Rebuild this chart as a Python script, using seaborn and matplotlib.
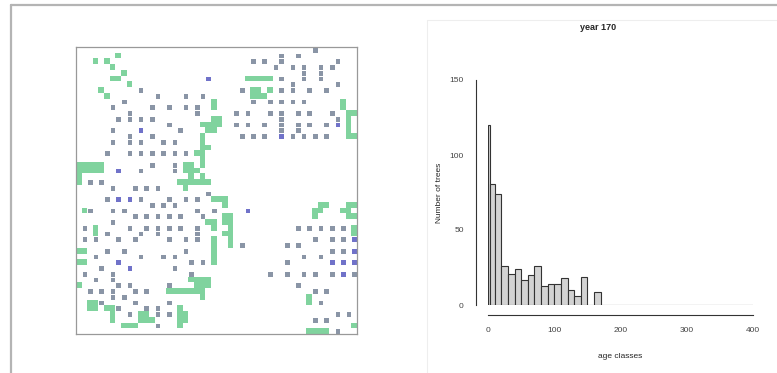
import numpy as np
import pandas as pd
import matplotlib
matplotlib.use("Agg")
import matplotlib.pyplot as plt
from matplotlib.colors import ListedColormap
from matplotlib.lines import Line2D
import seaborn as sns

sns.set_style("white")
plt.rcParams["font.family"] = ["Liberation Sans", "DejaVu Sans"]

# forest map, 50 x 50 cells: row -> list of columns
n_cells = 50
green_cells = {
    1: [7], 2: [3, 5], 3: [6], 4: [8], 5: [6, 7, 30, 31, 32, 33, 34], 6: [9],
    7: [4, 31, 32, 34], 8: [5, 31, 32, 33], 9: [24, 47], 10: [24, 47],
    11: [48, 49], 12: [24, 25, 48], 13: [22, 23, 24, 25, 48], 14: [23, 24, 48],
    15: [22, 48, 49], 16: [22], 17: [22, 23], 18: [21, 22], 19: [22],
    20: [0, 1, 2, 3, 4, 19, 20, 22], 21: [0, 1, 2, 3, 4, 19, 20, 21],
    22: [0, 20, 22], 23: [0, 18, 19, 20, 21, 22, 23], 24: [19],
    26: [24, 25, 26], 27: [26, 43, 44, 48, 49], 28: [1, 42, 43, 47, 48],
    29: [26, 27, 42, 48, 49], 30: [23, 24, 26, 27], 31: [3, 24, 27, 49],
    32: [3, 26, 27, 49], 33: [24, 27], 34: [24, 27], 35: [0, 1, 24],
    36: [24], 37: [0, 1, 24], 40: [20, 21, 22, 23], 41: [0, 21, 22, 23],
    42: [16, 17, 18, 19, 20, 21, 22], 43: [22, 41], 44: [2, 3, 41],
    45: [2, 3, 5, 6, 18], 46: [6, 11, 12, 18, 19], 47: [6, 11, 12, 13, 18, 19],
    48: [8, 9, 10, 18, 49], 49: [41, 42, 43, 44],
}
grey_cells = {
    0: [42], 1: [36, 39], 2: [31, 33, 36, 46], 3: [35, 38, 40, 43, 45],
    4: [40, 43], 5: [36, 40, 43], 6: [38, 46], 7: [11, 29, 36, 38, 41, 44],
    8: [14, 19, 22], 9: [8, 31, 34, 36, 38, 40], 10: [6, 13, 16, 19, 21],
    11: [9, 21, 28, 30, 34, 36, 39, 41, 45], 12: [7, 9, 11, 13, 36, 46],
    13: [16, 28, 30, 33, 36, 39, 41, 44], 14: [6, 18, 36, 39],
    15: [9, 13, 29, 31, 33, 38, 40, 42, 44], 16: [6, 9, 11, 15, 17],
    18: [5, 9, 11, 13, 15, 17, 19], 20: [13, 17], 21: [11, 17], 23: [2, 4],
    24: [6, 10, 12, 14], 25: [23], 26: [5, 11, 16, 19, 21], 27: [13, 15, 17],
    28: [2, 6, 8, 21, 24], 29: [10, 12, 14, 16, 18, 22], 30: [6],
    31: [1, 9, 12, 14, 16, 18, 21, 39, 41, 43, 45, 47], 32: [5, 11, 14, 21],
    33: [1, 3, 7, 10, 16, 19, 21, 42, 45, 47], 34: [29, 37, 39],
    35: [5, 8, 19, 45, 47], 36: [3, 11, 15, 17, 40, 43], 37: [20, 22, 37],
    38: [4, 17], 39: [1, 6, 20, 34, 37, 40, 42, 45, 49], 40: [3, 6],
    41: [7, 9, 16, 39], 42: [2, 4, 6, 10, 12, 42, 44], 43: [6, 8],
    44: [4, 10, 16, 43], 45: [7, 12, 14], 46: [9, 14, 16, 46, 48],
    47: [42, 44], 48: [14], 49: [46],
}
blue_cells = {
    5: [23], 13: [46], 14: [11], 15: [36], 21: [7], 26: [7, 9], 28: [30],
    33: [49], 35: [49], 37: [7, 45, 47, 49], 38: [9], 39: [47],
}

# histogram of age classes, year 170
bin_edges = [0, 3] + list(range(10, 401, 10))
bin_counts = [120, 81, 74, 26, 21, 24, 17, 20, 26, 13, 14, 14, 18, 10, 6, 19, 0, 9] + [0] * 23

grid = np.zeros((n_cells, n_cells), dtype=int)
for value, cells in ((1, green_cells), (2, grey_cells), (3, blue_cells)):
    for r, cols in cells.items():
        grid[r, cols] = value

ages = pd.DataFrame({
    "age": [(a + b) / 2 for a, b in zip(bin_edges[:-1], bin_edges[1:])],
    "n": bin_counts,
})

W, H = 777, 373
fig = plt.figure(figsize=(W / 100, H / 100), dpi=100)

def box(x0, y0, x1, y1):
    return [x0 / W, 1 - y1 / H, (x1 - x0) / W, (y1 - y0) / H]

# outer slide frame + faint frame of the right image
fig.add_artist(Line2D([11 / W, 1], [1 - 5 / H, 1 - 5 / H], color="#b4b4b4", lw=1.6))
fig.add_artist(Line2D([11 / W, 11 / W], [0, 1 - 5 / H], color="#b4b4b4", lw=1.6))
fig.add_artist(Line2D([427 / W, 1], [1 - 20 / H, 1 - 20 / H], color="#eeeeee", lw=0.8))
fig.add_artist(Line2D([427 / W, 427 / W], [0, 1 - 20 / H], color="#eeeeee", lw=0.8))

# left panel: map -- trees as small squares, young stands as full cells on top
ax1 = fig.add_axes(box(76, 47, 357, 334))
cmap = ListedColormap(["white", "#80d39e", "#8a95a6", "#7072c9"])
sns.heatmap(np.where(grid >= 2, grid, 0), ax=ax1, cmap=cmap, vmin=-0.5, vmax=3.5,
            cbar=False, xticklabels=False, yticklabels=False,
            linewidths=0.7, linecolor="white")
sns.heatmap(grid, mask=grid != 1, ax=ax1, cmap=cmap, vmin=-0.5, vmax=3.5,
            cbar=False, xticklabels=False, yticklabels=False)
for s in ax1.spines.values():
    s.set_visible(True)
    s.set_color("#999999")
    s.set_linewidth(0.9)

# right panel: histogram
ax2 = fig.add_axes(box(488, 80, 753, 305))
sns.histplot(data=ages, x="age", weights="n", bins=bin_edges, ax=ax2,
             color="#d3d3d3", edgecolor="#333333", linewidth=0.8, alpha=1)
ax2.set_xlim(0, 400)
ax2.set_ylim(0, 150)
ax2.set_xticks([0, 100, 200, 300, 400])
ax2.set_yticks([0, 50, 100, 150])
ax2.tick_params(labelsize=6, length=3.5, width=0.8, colors="#444444", pad=5)
plt.setp(ax2.get_yticklabels(), rotation=90, va="center")
sns.despine(ax=ax2)
ax2.spines["left"].set_position(("outward", 9))
ax2.spines["bottom"].set_position(("outward", 7))
ax2.spines["left"].set_bounds(0, 150)
ax2.spines["bottom"].set_bounds(0, 400)
for s in ("left", "bottom"):
    ax2.spines[s].set_color("#333333")
    ax2.spines[s].set_linewidth(0.8)
ax2.set_xlabel("age classes", fontsize=6, labelpad=14)
ax2.set_ylabel("Number of trees", fontsize=6, labelpad=5)
fig.text(598 / W, 1 - 28 / H, "year 170", ha="center", va="center",
         fontsize=6.5, fontweight="bold")

fig.savefig("out.png", dpi=100)
